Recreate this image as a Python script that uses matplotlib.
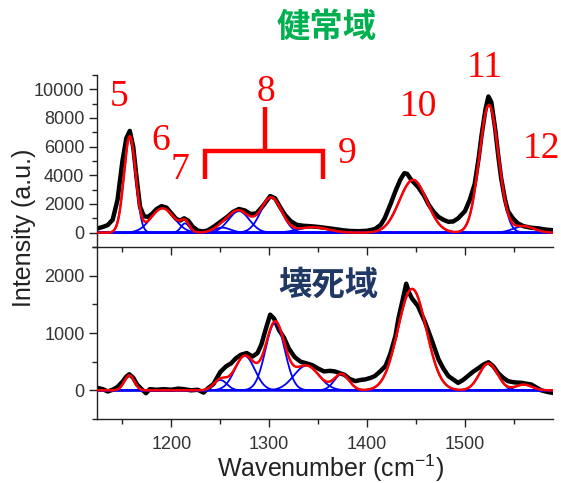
import numpy as np
import matplotlib
matplotlib.use("Agg")
import matplotlib.pyplot as plt
from matplotlib.lines import Line2D

plt.rcParams['font.family'] = ['Liberation Sans', 'DejaVu Sans']
plt.rcParams['mathtext.fontset'] = 'custom'
plt.rcParams['mathtext.rm'] = 'Liberation Sans'
plt.rcParams['mathtext.default'] = 'regular'

# ---------------- data ----------------
# Healthy region (top): measured spectrum
top_wn = [1125, 1130, 1135, 1140, 1145, 1150, 1154, 1157.5, 1161, 1165, 1168, 1172, 1176, 1180,
          1185, 1190, 1195, 1200, 1205, 1209, 1213, 1217, 1222, 1227, 1232, 1237, 1243, 1250,
          1257, 1263, 1269, 1275, 1281, 1287, 1294, 1301, 1306, 1311, 1316, 1322, 1328, 1335,
          1342, 1350, 1359, 1367, 1374, 1382, 1391, 1400, 1408, 1414, 1418, 1424, 1429, 1434,
          1438, 1441, 1445, 1452, 1458, 1463, 1468, 1473, 1478, 1483, 1488, 1493, 1500, 1505,
          1510, 1514, 1517, 1521, 1524, 1527, 1531, 1534, 1537, 1541, 1544, 1549, 1554, 1560,
          1568, 1575, 1582, 1590]
top_int = [300, 400, 530, 900, 2300, 5000, 6600, 7100, 6000, 3500, 1800, 1150, 1100, 1300,
           1650, 1850, 1750, 1350, 950, 850, 1000, 850, 400, 150, 80, 150, 400, 750,
           1100, 1450, 1650, 1550, 1300, 1350, 1900, 2550, 2400, 1800, 1250, 800, 550, 480,
           450, 400, 320, 250, 180, 120, 100, 130, 250, 550, 1000, 2000, 2900, 3700,
           4150, 4100, 3700, 3200, 2600, 1950, 1450, 1100, 900, 760, 780, 1000, 1500, 2300,
           3400, 5200, 6800, 8600, 9500, 9100, 7200, 5400, 3800, 2300, 1500, 1000, 650, 450,
           340, 300, 220, 170]
# fitted component bands (centre, height, FWHM)
top_centers = [1157.5, 1191, 1214, 1252, 1269, 1302, 1345, 1447, 1524.5, 1560]
top_heights = [6700, 1700, 650, 350, 1500, 2450, 380, 3680, 8900, 450]
top_fwhm = [14, 28, 10, 20, 25, 25, 35, 33, 23, 25]

# Necrotic region (bottom): measured spectrum
bot_wn = [1125, 1130, 1135, 1140, 1145, 1150, 1154, 1157, 1161, 1165, 1169, 1174, 1178, 1185,
          1192, 1200, 1207, 1213, 1220, 1227, 1233, 1237, 1243, 1250, 1256, 1261, 1266, 1271,
          1277, 1283, 1288, 1292, 1297, 1301, 1305, 1310, 1315, 1320, 1326, 1332, 1338, 1344,
          1350, 1356, 1362, 1367, 1372, 1377, 1382, 1388, 1393, 1398, 1404, 1408, 1414, 1419,
          1424, 1429, 1432, 1436, 1440, 1443, 1446, 1452, 1459, 1466, 1473, 1478, 1483, 1488,
          1493, 1498, 1503, 1508, 1514, 1519, 1524, 1529, 1534, 1539, 1544, 1550, 1558, 1568,
          1578, 1585, 1590]
bot_int = [40, 20, -20, 10, 60, 150, 240, 280, 220, 100, 30, -50, 20, 10,
           20, 10, 30, 20, 0, 10, -40, 30, 110, 320, 420, 470, 560, 620,
           650, 590, 650, 800, 1100, 1320, 1250, 1050, 920, 730, 580, 500, 470, 440,
           380, 330, 340, 330, 300, 270, 200, 160, 180, 190, 220, 250, 340, 430,
           650, 950, 1250, 1550, 1860, 1700, 1600, 1470, 1200, 880, 540, 380, 250, 190,
           130, 180, 250, 320, 390, 450, 490, 420, 300, 220, 160, 140, 130, 100,
           0, -30, -45]
bot_centers = [1157, 1250, 1275, 1306, 1338, 1374, 1446, 1524, 1560]
bot_heights = [260, 180, 600, 1180, 430, 280, 1770, 470, 100]
bot_fwhm = [12, 16, 24, 23, 30, 18, 34, 22, 20]

peak_labels = ['5', '6', '7', '8', '9', '10', '11', '12']
title_top = '健常域'
title_bot = '壊死域'

# ---------------- figure ----------------
W, H = 561, 483
fig = plt.figure(figsize=(W / 100, H / 100), dpi=100)

def fx(px):
    return px / W

def fy(py):
    return 1 - py / H

left, right = 97, 553
ax_top = fig.add_axes([fx(left), fy(247), fx(right) - fx(left), fy(75) - fy(247)])
ax_bot = fig.add_axes([fx(left), fy(419), fx(right) - fx(left), fy(247) - fy(419)])

grid = np.linspace(1120, 1595, 1200)

def band(c, h, w):
    return h * np.exp(-4 * np.log(2) * ((grid - c) / w) ** 2)

axis_col = '#222222'
lab_col = '#333333'

for ax, wn, inten, cs, hs, ws, ylim, major, minor in [
        (ax_top, top_wn, top_int, top_centers, top_heights, top_fwhm, (-1000, 11000), 2000, 1000),
        (ax_bot, bot_wn, bot_int, bot_centers, bot_heights, bot_fwhm, (-500, 2500), 1000, 500)]:
    ax.plot(wn, inten, color='black', lw=3.2, solid_joinstyle='round', zorder=2)
    total = np.zeros_like(grid)
    for c, h, w in zip(cs, hs, ws):
        comp = band(c, h, w)
        total += comp
        ax.plot(grid, comp, color='#0000ff', lw=1.3, zorder=3)
    ax.plot(grid, total, color='#ff0000', lw=1.8, zorder=4)
    ax.set_xlim(1124, 1590)
    ax.set_ylim(*ylim)
    ax.set_yticks(np.arange(0, ylim[1] + 1, major))
    ax.set_yticks(np.arange(ylim[0], ylim[1] + 1, minor), minor=True)
    ax.set_xticks([1200, 1300, 1400, 1500])
    ax.set_xticks(np.arange(1150, 1590, 50), minor=True)
    for s in ['top', 'right']:
        ax.spines[s].set_visible(False)
    for s in ['left', 'bottom']:
        ax.spines[s].set_color(axis_col)
        ax.spines[s].set_linewidth(1.0)
    ax.tick_params(which='major', direction='out', length=6, width=1.0, color=axis_col,
                   labelsize=13, labelcolor=lab_col, pad=3)
    ax.tick_params(which='minor', direction='out', length=3.5, width=1.0, color=axis_col)
    ax.patch.set_alpha(0)

ax_top.tick_params(axis='x', labelbottom=False)
ax_bot.tick_params(axis='x', pad=6)

fig.text(fx(331), fy(468), 'Wavenumber (cm$^{-1}$)', ha='center', va='center',
         fontsize=18, color='#222222')
fig.text(fx(24), fy(228), 'Intensity (a.u.)', ha='center', va='center', rotation=90,
         fontsize=18, color='#222222')

# peak numbers
label_pos = [(119, 97), (161, 141), (180, 170), (266, 92), (347, 154), (418, 107),
             (485, 68), (541, 149)]
for t, (px, py) in zip(peak_labels, label_pos):
    fig.text(fx(px), fy(py), t, ha='center', va='center', fontsize=27,
             family='Liberation Serif', color='#ff0000')

# bracket for group 8
br_col = '#ff0000'
fig.add_artist(Line2D([fx(205), fx(205), fx(323), fx(323)], [fy(179), fy(151), fy(151), fy(179)],
                      color=br_col, lw=3.2, solid_joinstyle='miter', solid_capstyle='butt'))
fig.add_artist(Line2D([fx(265), fx(265)], [fy(151), fy(107)], color=br_col, lw=3.2,
                      solid_capstyle='butt'))

fig.text(fx(327), fy(28), title_top, ha='center', va='center', fontsize=24, fontweight='bold',
         family=['Noto Sans CJK JP', 'DejaVu Sans'], color='#00b050')
fig.text(fx(328), fy(285), title_bot, ha='center', va='center', fontsize=24, fontweight='bold',
         family=['Noto Sans CJK JP', 'DejaVu Sans'], color='#1f3864')

fig.savefig('out.png', dpi=100)
